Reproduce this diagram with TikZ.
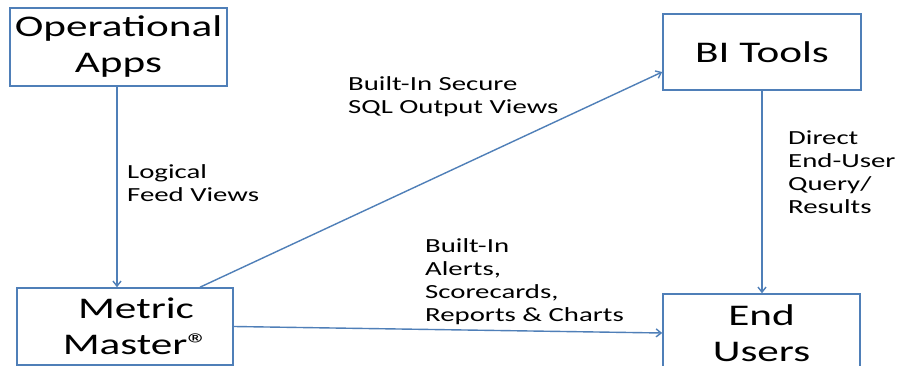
\documentclass[tikz,border=0pt]{standalone}
\usepackage{fontspec}
\setmainfont{Carlito}[FakeStretch=1.44]
\usepackage{tikz}
\usetikzlibrary{arrows.meta, positioning}
\definecolor{line01}{HTML}{4F7FB8}
\tikzset{
    box/.style={
        draw=line01, line width=1.6pt,
        inner sep=0pt, align=center,
        font=\fontsize{30}{36}\selectfont
    },
    conn/.style={
        line01, line width=1.4pt,
        -{Straight Barb[length=5pt, width=8pt]},
    },
    note/.style={anchor=north west, inner sep=0pt, align=left,
        font=\fontsize{20}{23}\selectfont},
}
\begin{document}
\begin{tikzpicture}[x=1pt, y=-1pt]
        \useasboundingbox (0,0) rectangle (903,366);
        \fill[white] (0,0) rectangle (903,366);
        \clip (0,0) rectangle (903,366);

        \node[box, minimum width=217pt, minimum height=78pt] (ops) at (118.5,47) {Operational\\Apps};
        \node[box, minimum width=216pt, minimum height=77pt] (metric) at (125,326.5)
            {\hspace*{22pt}Metric\\\hspace*{22pt}Master\textregistered};
        \node[box, minimum width=198pt, minimum height=76pt] (bi) at (762,52) {BI Tools};
        \node[box, minimum width=197pt, minimum height=78pt] (users) at (761.5,333) {End\\Users};

        \node[note] (feed) at (127,164) {Logical\\Feed Views};
        \node[note] (sql) at (348,76) {Built-In Secure\\SQL Output Views};
        \node[note] (alerts) at (425,238) {Built-In\\Alerts,\\Scorecards,\\Reports \& Charts};
        \node[note] (query) at (788,131) {Direct\\End-User\\Query/\\Results};

        \draw[conn] ([xshift=-1.5pt]ops.south) -- ([xshift=-1.5pt]ops.south |- metric.north);
        \draw[conn] ([xshift=75pt]metric.north) -- ([yshift=-20pt]bi.west);
        \draw[conn] (metric.east) -- (users.west);
        \draw[conn] (bi.south) -- (bi.south |- users.north);
\end{tikzpicture}
\end{document}
